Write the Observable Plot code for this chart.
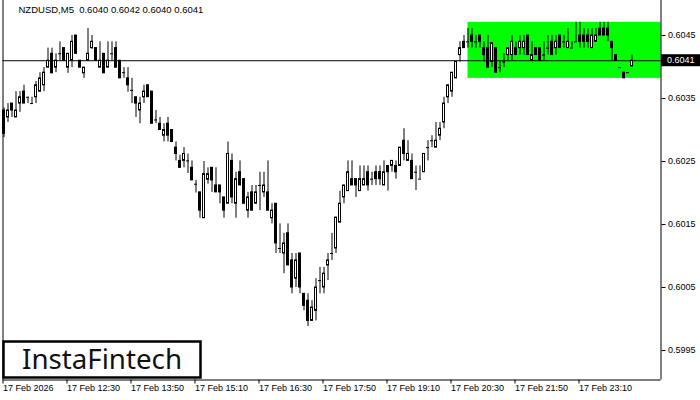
<!DOCTYPE html>
<html><head><meta charset="utf-8">
<script src="https://cdn.jsdelivr.net/npm/d3@7"></script>
<script src="https://cdn.jsdelivr.net/npm/@observablehq/plot@0.6"></script>
<style>
body{margin:0;background:#fff}
svg{display:block}
svg text{white-space:pre}
</style>
</head><body><div id="chart"></div>
<script>
const opens = [0.60331,0.60320,0.60342,0.60320,0.60342,0.60361,0.60352,0.60342,0.60352,0.60361,
0.60371,0.60399,0.60421,0.60399,0.60421,0.60430,0.60399,0.60410,0.60450,0.60410,
0.60390,0.60410,0.60430,0.60430,0.60399,0.60421,0.60399,0.60421,0.60430,0.60410,
0.60391,0.60382,0.60363,0.60352,0.60331,0.60352,0.60371,0.60361,0.60316,0.60310,
0.60291,0.60310,0.60300,0.60272,0.60251,0.60251,0.60251,0.60240,0.60214,0.60201,
0.60160,0.60221,0.60240,0.60212,0.60212,0.60193,0.60183,0.60251,0.60183,0.60233,
0.60222,0.60172,0.60201,0.60183,0.60212,0.60201,0.60201,0.60160,0.60183,0.60112,
0.60104,0.60136,0.60093,0.60064,0.60104,0.60040,0.60029,0.59997,0.60013,0.60061,
0.60050,0.60085,0.60104,0.60112,0.60153,0.60193,0.60203,0.60222,0.60222,0.60203,
0.60212,0.60233,0.60222,0.60233,0.60233,0.60212,0.60243,0.60243,0.60243,0.60243,
0.60283,0.60251,0.60251,0.60233,0.60222,0.60233,0.60272,0.60283,0.60272,0.60291,
0.60312,0.60352,0.60361,0.60382,0.60419,0.60440,0.60440,0.60450,0.60440,0.60450,
0.60430,0.60430,0.60408,0.60430,0.60399,0.60408,0.60419,0.60419,0.60430,0.60430,
0.60430,0.60450,0.60410,0.60430,0.60430,0.60419,0.60430,0.60440,0.60430,0.60450,
0.60440,0.60430,0.60430,0.60440,0.60450,0.60450,0.60450,0.60430,0.60440,0.60461,
0.60461,0.60461,0.60440,0.60419,0.60399,0.60391,0.60391,0.60401];
const highs = [0.60335,0.60342,0.60342,0.60361,0.60361,0.60371,0.60352,0.60352,0.60377,0.60391,
0.60399,0.60430,0.60430,0.60421,0.60440,0.60430,0.60421,0.60450,0.60450,0.60410,
0.60399,0.60461,0.60450,0.60430,0.60440,0.60421,0.60440,0.60440,0.60440,0.60410,
0.60399,0.60399,0.60382,0.60352,0.60352,0.60371,0.60371,0.60361,0.60331,0.60320,
0.60310,0.60320,0.60300,0.60281,0.60260,0.60272,0.60262,0.60251,0.60220,0.60201,
0.60250,0.60240,0.60240,0.60240,0.60212,0.60193,0.60281,0.60262,0.60233,0.60251,
0.60222,0.60201,0.60212,0.60212,0.60233,0.60233,0.60251,0.60183,0.60183,0.60151,
0.60136,0.60151,0.60104,0.60104,0.60104,0.60040,0.60040,0.60029,0.60064,0.60082,
0.60082,0.60104,0.60136,0.60161,0.60203,0.60212,0.60251,0.60251,0.60222,0.60243,
0.60243,0.60243,0.60233,0.60243,0.60243,0.60251,0.60243,0.60251,0.60251,0.60272,
0.60302,0.60283,0.60262,0.60243,0.60243,0.60262,0.60283,0.60291,0.60312,0.60312,
0.60352,0.60371,0.60391,0.60408,0.60440,0.60450,0.60461,0.60461,0.60450,0.60450,
0.60440,0.60450,0.60438,0.60430,0.60410,0.60421,0.60430,0.60450,0.60440,0.60450,
0.60450,0.60450,0.60440,0.60430,0.60430,0.60440,0.60450,0.60450,0.60450,0.60450,
0.60450,0.60461,0.60440,0.60471,0.60471,0.60461,0.60461,0.60461,0.60461,0.60471,
0.60471,0.60471,0.60440,0.60419,0.60399,0.60391,0.60391,0.60419];
const lows = [0.60288,0.60312,0.60320,0.60320,0.60328,0.60342,0.60342,0.60342,0.60342,0.60360,
0.60361,0.60399,0.60390,0.60391,0.60410,0.60410,0.60390,0.60399,0.60421,0.60399,
0.60382,0.60410,0.60428,0.60410,0.60399,0.60390,0.60399,0.60410,0.60399,0.60382,
0.60382,0.60360,0.60342,0.60320,0.60310,0.60342,0.60352,0.60310,0.60310,0.60300,
0.60281,0.60281,0.60281,0.60251,0.60240,0.60240,0.60231,0.60220,0.60200,0.60160,
0.60160,0.60214,0.60201,0.60201,0.60183,0.60160,0.60183,0.60183,0.60160,0.60212,
0.60183,0.60160,0.60172,0.60183,0.60172,0.60193,0.60172,0.60151,0.60104,0.60104,
0.60072,0.60085,0.60040,0.60050,0.60040,0.60013,0.59988,0.59997,0.59997,0.60040,
0.60040,0.60061,0.60093,0.60104,0.60153,0.60183,0.60203,0.60212,0.60193,0.60203,
0.60212,0.60203,0.60212,0.60212,0.60212,0.60212,0.60203,0.60233,0.60222,0.60243,
0.60251,0.60251,0.60222,0.60204,0.60222,0.60233,0.60251,0.60272,0.60272,0.60283,
0.60302,0.60342,0.60352,0.60382,0.60408,0.60430,0.60430,0.60430,0.60430,0.60430,
0.60408,0.60399,0.60399,0.60391,0.60391,0.60399,0.60408,0.60410,0.60419,0.60419,
0.60419,0.60419,0.60410,0.60419,0.60410,0.60410,0.60419,0.60419,0.60419,0.60430,
0.60430,0.60430,0.60430,0.60440,0.60430,0.60430,0.60430,0.60430,0.60440,0.60450,
0.60450,0.60440,0.60410,0.60410,0.60399,0.60382,0.60391,0.60401];
const closes = [0.60294,0.60331,0.60331,0.60331,0.60352,0.60342,0.60352,0.60342,0.60371,0.60382,
0.60391,0.60410,0.60390,0.60410,0.60421,0.60410,0.60421,0.60440,0.60421,0.60399,
0.60399,0.60421,0.60440,0.60410,0.60410,0.60390,0.60410,0.60421,0.60399,0.60382,
0.60391,0.60371,0.60363,0.60342,0.60342,0.60361,0.60352,0.60310,0.60316,0.60300,
0.60300,0.60291,0.60281,0.60262,0.60240,0.60262,0.60251,0.60220,0.60214,0.60172,
0.60230,0.60230,0.60220,0.60201,0.60201,0.60172,0.60262,0.60193,0.60222,0.60212,
0.60183,0.60193,0.60172,0.60201,0.60212,0.60212,0.60172,0.60172,0.60120,0.60112,
0.60120,0.60085,0.60050,0.60093,0.60050,0.60021,0.59997,0.60018,0.60050,0.60061,
0.60072,0.60093,0.60104,0.60161,0.60183,0.60212,0.60233,0.60212,0.60212,0.60222,
0.60222,0.60212,0.60222,0.60222,0.60222,0.60233,0.60233,0.60251,0.60233,0.60272,
0.60262,0.60262,0.60222,0.60233,0.60222,0.60262,0.60272,0.60283,0.60283,0.60302,
0.60342,0.60371,0.60391,0.60408,0.60430,0.60430,0.60440,0.60440,0.60440,0.60440,
0.60419,0.60399,0.60438,0.60391,0.60399,0.60408,0.60430,0.60440,0.60419,0.60440,
0.60440,0.60419,0.60419,0.60419,0.60410,0.60419,0.60430,0.60419,0.60440,0.60430,
0.60440,0.60440,0.60430,0.60440,0.60440,0.60440,0.60440,0.60450,0.60450,0.60450,
0.60450,0.60450,0.60430,0.60410,0.60399,0.60382,0.60391,0.60410];

const tickIndex = [0,16,32,48,64,80,96,112,128,144];
const tickLabels = ["17 Feb 2026","17 Feb 12:30","17 Feb 13:50","17 Feb 15:10","17 Feb 16:30",
  "17 Feb 17:50","17 Feb 19:10","17 Feb 20:30","17 Feb 21:50","17 Feb 23:10"];
const yTicks = [0.6045,0.6035,0.6025,0.6015,0.6005,0.5995];
const symbolTitle = "NZDUSD,M5  0.6040 0.6042 0.6040 0.6041";
const currentPrice = 0.6041;
const zoneTop = 0.60471, zoneBottom = 0.60382, zoneStart = 116;
const brand = "InstaFintech";

const xMin = -0.25, xMax = 164.25;
const yMin = 0.599032, yMax = 0.605056;

const candles = opens.map((o,i)=>({i,o,h:highs[i],l:lows[i],c:closes[i]}));
const upBodies = candles.filter(d=>d.c>d.o);
const downBodies = candles.filter(d=>d.c<d.o);
const dojis = candles.filter(d=>d.c===d.o);

const font = "Liberation Sans, Arial, sans-serif";

const chart = Plot.plot({
  width: 700, height: 400,
  marginLeft: 2.5, marginRight: 39.5, marginTop: 0, marginBottom: 20.5,
  style: {fontFamily: font, fontSize: "9px", color: "black", background: "white", overflow: "visible"},
  x: {type: "linear", domain: [xMin, xMax], axis: null, label: null},
  y: {domain: [yMin, yMax], axis: null, label: null},
  marks: [
    Plot.rect([0], {x1: zoneStart, x2: xMax, y1: zoneBottom, y2: zoneTop, fill: "#00ff00"}),
    Plot.ruleY([currentPrice], {stroke: "black", strokeWidth: 1}),
    Plot.ruleX(candles, {x: "i", y1: "l", y2: "h", stroke: "black", strokeWidth: 1}),
    Plot.rect(upBodies, {x1: d=>d.i-0.25, x2: d=>d.i+0.25, y1: "o", y2: "c", fill: "white", stroke: "black", strokeWidth: 1}),
    Plot.rect(downBodies, {x1: d=>d.i-0.25, x2: d=>d.i+0.25, y1: "o", y2: "c", fill: "black", stroke: "black", strokeWidth: 1}),
    Plot.ruleY(dojis, {y: "o", x1: d=>d.i-0.375, x2: d=>d.i+0.375, stroke: "black", strokeWidth: 1}),
    Plot.ruleX([xMin, xMax], {stroke: "black"}),
    Plot.ruleY([yMin], {stroke: "black"}),
    Plot.axisY(yTicks, {anchor: "right", tickSize: 4, tickPadding: 3, label: null, tickFormat: d=>d.toFixed(4), fontSize: 9}),
    Plot.axisX(tickIndex, {anchor: "bottom", tickSize: 4, tickPadding: 1, label: null, textAnchor: "start", dx: -1,
      tickFormat: d=>tickLabels[tickIndex.indexOf(d)], fontSize: 9}),
    Plot.text([symbolTitle], {frameAnchor: "top-left", dx: 15.5, dy: 6, textAnchor: "start", lineAnchor: "top", fontSize: 9.5, fill: "black"})
  ]
});

document.getElementById("chart").appendChild(chart);

// current price tag on the right axis
const svg = d3.select(chart);
const yPx = chart.scale("y").apply(currentPrice);
const tag = svg.append("g").attr("text-anchor", "start");
tag.append("rect").attr("x", 661).attr("y", yPx-6).attr("width", 39).attr("height", 12).attr("fill", "black");
tag.append("text").attr("x", 667).attr("y", yPx).attr("dy", "0.35em")
  .attr("fill", "white").attr("font-family", font).attr("font-size", 9).text(currentPrice.toFixed(4));

// brand box bottom-left
const logo = svg.append("g").attr("text-anchor", "start");
logo.append("rect").attr("x", 3.5).attr("y", 341.5).attr("width", 197).attr("height", 36)
  .attr("fill", "white").attr("stroke", "black").attr("stroke-width", 2.5);
logo.append("text").attr("x", 22).attr("y", 369).attr("font-family", "Noto Sans, sans-serif")
  .attr("font-weight", 400).attr("font-size", 27).attr("fill", "#111")
  .attr("textLength", 160).attr("lengthAdjust", "spacingAndGlyphs").text(brand);
</script>
</body></html>
